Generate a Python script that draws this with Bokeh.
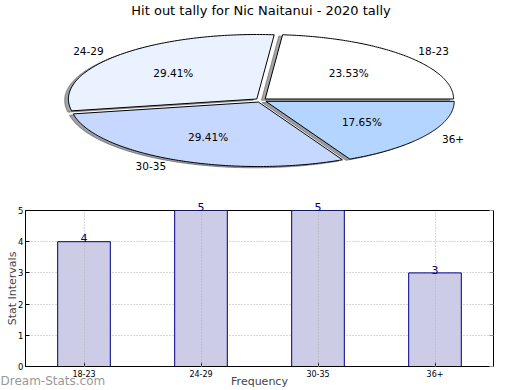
import numpy as np
from bokeh.plotting import figure
from bokeh.models import (Label, LabelSet, ColumnDataSource, FixedTicker, FactorRange,
                          Range1d, LinearAxis)
from bokeh.embed import file_html
from bokeh.resources import INLINE
from bokeh.core.properties import value

# ---- data ----
title_text = "Hit out tally for Nic Naitanui - 2020 tally"
categories = ["18-23", "24-29", "30-35", "36+"]
tallies = [4, 5, 5, 3]
pie_colors = ["#ffffff", "#eaf1ff", "#c6d8ff", "#b3d5ff"]
y_ticks = [0, 1, 2, 3, 4, 5]
y_label = "Stat Intervals"
x_label = "Frequency"
watermark = "Dream-Stats.com"

# ---- layout constants (pixels) ----
FONT = "DejaVu Sans"
W = 520
PIE_H, BAR_H = 195, 195
FL, FR = 25, 493                   # bar frame left/right
FT, FB = 15, 174                   # bar frame top/bottom inside the bar canvas
PIE_CX, PIE_CY, PIE_RX, PIE_RY = 260.5, 99.8, 188.4, 64.5
EXPLODE = 0.03
SHADOW = (-0.02, -0.02)

pos = list(range(len(categories)))
ymax = y_ticks[-1]

# ---- pie ----
pie = figure(width=W, height=PIE_H,
             x_range=Range1d(-PIE_CX / PIE_RX, (W - PIE_CX) / PIE_RX),
             y_range=Range1d((PIE_CY - PIE_H) / PIE_RY, PIE_CY / PIE_RY),
             output_backend="svg", toolbar_location=None, min_border=0,
             x_axis_location=None, y_axis_location=None)
pie.grid.visible = False
pie.outline_line_color = None

total = float(sum(tallies))
start = 0.0
wedges = []
for cat, t, col in zip(categories, tallies, pie_colors):
    frac = t / total
    a1, a2 = start, start + frac * 2 * np.pi
    mid = 0.5 * (a1 + a2)
    ox, oy = EXPLODE * np.cos(mid), EXPLODE * np.sin(mid)
    th = np.linspace(a1, a2, 120)
    xs = np.concatenate([[ox], ox + np.cos(th), [ox]])
    ys = np.concatenate([[oy], oy + np.sin(th), [oy]])
    wedges.append((cat, frac, col, mid, ox, oy, xs, ys))
    start = a2

def shade(hexcol):
    h = hexcol.lstrip("#")
    r, g, b = (int(h[i:i + 2], 16) for i in (0, 2, 4))
    return "#%02x%02x%02x" % (int(r * 0.3), int(g * 0.3), int(b * 0.3))

for cat, frac, col, mid, ox, oy, xs, ys in wedges:
    sc = shade(col)
    pie.patch(xs + SHADOW[0], ys + SHADOW[1], fill_color=sc, line_color=sc,
              fill_alpha=0.5, line_alpha=0.5)
for cat, frac, col, mid, ox, oy, xs, ys in wedges:
    pie.patch(xs, ys, fill_color=col, line_color="black", line_width=1)

for cat, frac, col, mid, ox, oy, xs, ys in wedges:
    lx, ly = ox + 1.1 * np.cos(mid), oy + 1.1 * np.sin(mid)
    pie.text(x=[lx], y=[ly], text=[cat], text_align="left" if lx > 0 else "right",
             text_baseline="middle", text_font=value(FONT), text_font_size="10.5px",
             text_color="black")
    px_, py_ = ox + 0.6 * np.cos(mid), oy + 0.6 * np.sin(mid)
    pie.text(x=[px_], y=[py_], text=["%.2f%%" % (frac * 100)], text_align="center",
             text_baseline="middle", text_font=value(FONT), text_font_size="10.5px",
             text_color="black")

pie.add_layout(Label(x=0, y=(PIE_CY - 10) / PIE_RY, text=title_text, text_align="center",
                     text_baseline="middle", text_font=FONT, text_font_size="13px",
                     text_color="black"))

# ---- bars ----
bar = figure(width=W, height=BAR_H, x_range=FactorRange(*categories),
             y_range=Range1d(y_ticks[0], ymax), output_backend="svg", toolbar_location=None,
             min_border_left=FL, min_border_right=W - FR, min_border_top=FT,
             min_border_bottom=BAR_H - FB)
bar.vbar(x=categories, top=tallies, width=0.45, fill_color="#ccccE6", line_color="#000080",
         line_width=1)
bar.outline_line_color = "black"
bar.outline_line_alpha = 1
bar.outline_line_width = 1

bar.xgrid.grid_line_dash = "1 2"
bar.xgrid.grid_line_color = "#b0b0b0"
bar.xgrid.level = "overlay"
bar.ygrid.grid_line_dash = "1 2"
bar.ygrid.grid_line_color = "#b0b0b0"

left = bar.yaxis[0]
bottom = bar.xaxis[0]
left.ticker = FixedTicker(ticks=y_ticks)
right = LinearAxis(ticker=FixedTicker(ticks=y_ticks),
                   major_label_overrides={t: "" for t in y_ticks})
bar.add_layout(right, "right")

for ax in (bottom, left, right):
    ax.major_tick_in = 4
    ax.major_tick_out = 0
    ax.minor_tick_in = 0
    ax.minor_tick_out = 0
    ax.axis_line_color = "black"
    ax.major_tick_line_color = "black"
    ax.major_label_text_font = FONT
    ax.major_label_text_color = "black"
    ax.major_label_standoff = 3
right.major_tick_line_color = "#999999"
left.major_label_standoff = 2
left.major_label_text_font_size = "8.5px"
bottom.major_label_text_font_size = "8px"

left.axis_label = y_label
left.axis_label_text_font = FONT
left.axis_label_text_font_size = "11px"
left.axis_label_text_font_style = "normal"
left.axis_label_standoff = -4
bottom.axis_label = x_label
bottom.axis_label_text_font = FONT
bottom.axis_label_text_font_size = "11px"
bottom.axis_label_text_font_style = "normal"
bottom.axis_label_standoff = -5

# ---- transparent overlay on the bar canvas: value labels above bars, watermark ----
n = len(categories)
ppu_x = (FR - FL) / n
ppu_y = (FB - FT) / (ymax - y_ticks[0])
ov = figure(width=W, height=BAR_H,
            x_range=Range1d(-0.5 - FL / ppu_x, n - 0.5 + (W - FR) / ppu_x),
            y_range=Range1d(y_ticks[0] - (BAR_H - FB) / ppu_y, ymax + FT / ppu_y),
            output_backend="svg", toolbar_location=None, min_border=0,
            x_axis_location=None, y_axis_location=None, margin=(-BAR_H, 0, 0, 0))
ov.grid.visible = False
ov.outline_line_color = None
ov.background_fill_color = None
ov.border_fill_color = None

src = ColumnDataSource(dict(x=pos, y=tallies, t=[str(v) for v in tallies]))
ov.add_layout(LabelSet(x="x", y="y", text="t", source=src, text_align="center",
                       text_baseline="alphabetic", text_color="#000080",
                       text_font=value(FONT), text_font_size="11px"))
ov.add_layout(Label(x=0, y=17, x_units="screen", y_units="screen", text=watermark,
                    text_align="left", text_baseline="top", text_font=FONT,
                    text_font_size="12px", text_color="#999999"))

open("out.html", "w").write(file_html([pie, bar, ov], INLINE))
